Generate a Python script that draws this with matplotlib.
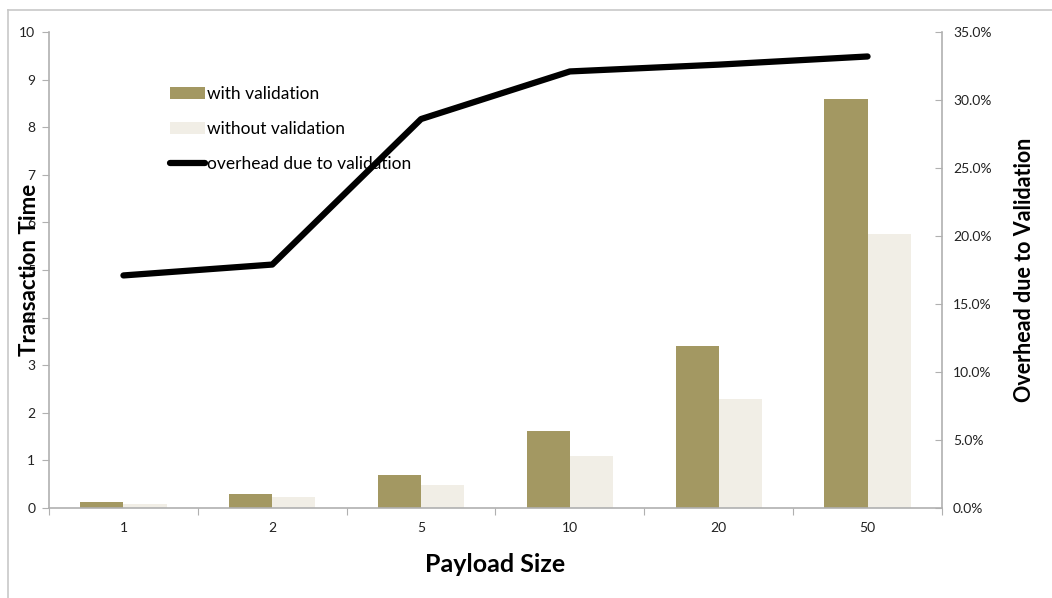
import matplotlib.pyplot as plt
import numpy as np
from matplotlib.lines import Line2D
from matplotlib.ticker import FuncFormatter

plt.rcParams['font.family'] = ['Lato', 'DejaVu Sans']

# Transaction time per payload size, with and without validation
payload_sizes = ['1', '2', '5', '10', '20', '50']
with_validation = [0.13, 0.29, 0.69, 1.62, 3.40, 8.60]
without_validation = [0.09, 0.24, 0.49, 1.09, 2.29, 5.76]
overhead_pct = [17.1, 17.9, 28.6, 32.1, 32.6, 33.2]

color_with = '#a39862'
color_without = '#f1eee6'
spine_gray = '#b0b0b0'

fig = plt.figure(figsize=(10.52, 5.98), dpi=100)
ax = fig.add_axes([0.0466, 0.1505, 0.8488, 0.796])
ax2 = ax.twinx()

x = np.arange(len(payload_sizes))
w = 0.29
b1 = ax.bar(x - w / 2, with_validation, w, color=color_with, label='with validation', zorder=2)
b2 = ax.bar(x + w / 2, without_validation, w, color=color_without, label='without validation', zorder=2)

ln, = ax2.plot(x, overhead_pct, color='black', lw=4.5, solid_capstyle='round',
               solid_joinstyle='round', label='overhead due to validation')

ax.set_xlim(-0.5, len(payload_sizes) - 0.5)
ax.set_ylim(0, 10)
ax.set_yticks(range(0, 11))
ax2.set_ylim(0, 35)
ax2.set_yticks(np.arange(0, 36, 5))
ax2.yaxis.set_major_formatter(FuncFormatter(lambda v, p: f'{v:.1f}%'))

# category ticks sit between the groups, labels at the centres
ax.set_xticks(np.arange(-0.5, len(payload_sizes)), minor=False)
ax.set_xticklabels([])
ax.set_xticks(x, minor=True)
ax.set_xticklabels(payload_sizes, minor=True)
ax.tick_params(axis='x', which='minor', length=0, pad=10, labelsize=10, colors='#222222')
ax.tick_params(axis='x', which='major', length=5, color=spine_gray, direction='out')
ax.tick_params(axis='y', length=5, color=spine_gray, direction='out', labelsize=10,
               labelcolor='#222222', pad=5)
ax2.tick_params(axis='y', length=5, color=spine_gray, direction='in', labelsize=10,
                labelcolor='#222222', pad=8)

for a in (ax, ax2):
    for s in a.spines.values():
        s.set_visible(False)
ax.spines['left'].set_visible(True)
ax.spines['bottom'].set_visible(True)
ax2.spines['right'].set_visible(True)
for s in (ax.spines['left'], ax.spines['bottom'], ax2.spines['right']):
    s.set_color(spine_gray)
    s.set_linewidth(1.2)

ax.set_xlabel('Payload Size', fontsize=18, fontweight='bold', labelpad=14)
ax.yaxis.set_label_coords(-0.010, 0.5)
ax.set_ylabel('Transaction Time', fontsize=16, fontweight='bold')
ax2.set_ylabel('Overhead due to Validation', fontsize=15.5, fontweight='bold', labelpad=16)

ax.legend(handles=[b1, b2, ln], loc='upper left', bbox_to_anchor=(0.1355, 0.886),
          frameon=False, fontsize=12.5, handlelength=2.0, handletextpad=0.15,
          labelspacing=1.1, borderaxespad=0, borderpad=0)
ax.set_zorder(ax2.get_zorder() + 1)
ax.patch.set_visible(False)
ax2.set_zorder(0)

# light outer frame around the chart area
fig.add_artist(Line2D([8 / 1052, 1], [1 - 10 / 598, 1 - 10 / 598], color='#c8c8c8', lw=1.2))
fig.add_artist(Line2D([8 / 1052, 8 / 1052], [0, 1 - 10 / 598], color='#c8c8c8', lw=1.2))

fig.savefig('out.png', dpi=100)
